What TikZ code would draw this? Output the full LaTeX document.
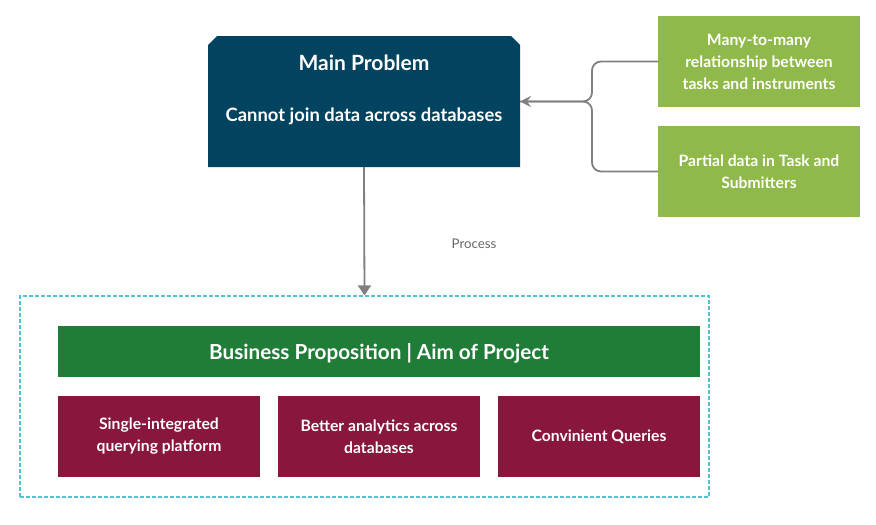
\documentclass[tikz,border=0pt]{standalone}
\usepackage{fontspec}
\setmainfont{Lato}
\usetikzlibrary{calc}
\usetikzlibrary{arrows.meta}

\definecolor{probblue}{RGB}{2,68,96}
\definecolor{causegreen}{RGB}{143,185,74}
\definecolor{aimgreen}{RGB}{31,125,56}
\definecolor{goalred}{RGB}{137,22,60}
\definecolor{framecyan}{RGB}{77,196,207}
\definecolor{linkgray}{RGB}{128,128,128}

\begin{document}
\begin{tikzpicture} [x=1pt, y=-1pt,
  plain/.style={inner sep=0, outer sep=0, text=white, align=center},
  cause/.style={plain, fill=causegreen, minimum width=202pt, minimum height=91pt, font=\bfseries\fontsize{15.7}{22}\selectfont},
  goal/.style={plain, fill=goalred, minimum width=202pt, minimum height=81pt, font=\bfseries\fontsize{15.7}{22}\selectfont},
  link/.style={draw=linkgray, line width=1.8pt}]
\useasboundingbox (0,0) rectangle (876,525);

% problem box, top corners cut off
\node[plain, minimum width=312pt, minimum height=131pt] (main) at (364,101.5) {};
\fill[probblue] (main.south west) -- ($(main.north west)+(0,9)$) -- ($(main.north west)+(9,0)$) -- ($(main.north east)+(-9,0)$) -- ($(main.north east)+(0,9)$) -- (main.south east) -- cycle;
\node[plain, font=\bfseries\fontsize{21}{24}\selectfont] (maintitle) at (364,63) {Main Problem};
\node[plain, font=\bfseries\fontsize{18.4}{20}\selectfont] (maintext) at (364,116.5) {Cannot join data across databases};

% causes
\node[cause] (many) at (759,61.5) {Many-to-many\\relationship between\\tasks and instruments};
\node[cause] (partial) at (759,171.5) {Partial data in Task and\\Submitters};
\coordinate (join) at (592,101.5);
\draw[link, rounded corners=9pt] (partial.west) -| (join) -- (main.east);
\draw[link, rounded corners=9pt, -{Stealth[length=11pt,width=11pt,inset=4pt]}] (many.west) -| (join) -- (main.east);

% aim of project
\node[draw=framecyan, dashed, line width=1.2pt, dash pattern=on 4pt off 2pt, inner sep=0, minimum width=689pt, minimum height=201pt] (frame) at (364.5,396.5) {};
\draw[link, -{Triangle[length=10pt,width=13pt]}] (main.south) -- (frame.north);
\node[text=linkgray!80!black, font=\fontsize{13.3}{16}\selectfont] (process) at (474,243.5) {Process};

\node[plain, fill=aimgreen, minimum width=642pt, minimum height=51pt] (aim) at (379,351.5) {};
\node[plain, font=\bfseries\fontsize{20.7}{24}\selectfont] (aimtext) at (379,353.5) {Business Proposition | Aim of Project};
\node[goal] (single) at (159,436.5) {Single-integrated\\querying platform};
\node[goal] (better) at (379,436.5) {Better analytics across\\databases};
\node[goal] (queries) at (599,436.5) {Convinient Queries};

\end{tikzpicture}
\end{document}
